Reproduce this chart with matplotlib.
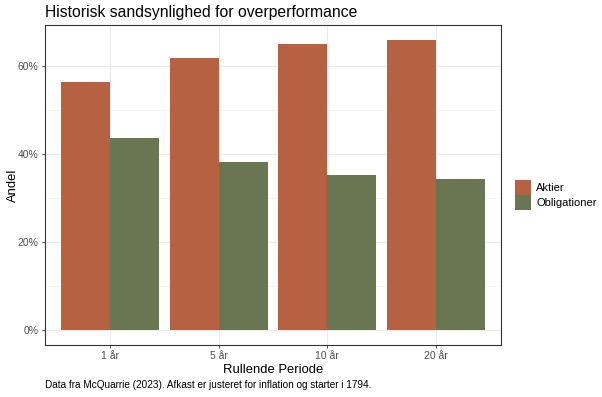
import matplotlib.pyplot as plt
import numpy as np
from matplotlib.ticker import FuncFormatter

plt.rcParams['font.family'] = ['Liberation Sans', 'DejaVu Sans']

periods = ['1 år', '5 år', '10 år', '20 år']
aktier = [56.4, 61.8, 65.1, 66.0]
obligationer = [43.6, 38.2, 35.2, 34.3]
series = ['Aktier', 'Obligationer']
colors = ['#B66142', '#6A7551']

fig = plt.figure(figsize=(6.02, 3.97), dpi=100)
ax = fig.add_axes([45 / 602, 1 - 345 / 397, 456 / 602, 320 / 397])

x = np.arange(len(periods)) + 1
w = 0.45
ax.bar(x - w / 2, aktier, width=w, color=colors[0], label=series[0], zorder=3)
ax.bar(x + w / 2, obligationer, width=w, color=colors[1], label=series[1], zorder=3)

ax.set_xlim(0.4, 4.6)
ymax = max(aktier) * 1.05
ax.set_ylim(-max(aktier) * 0.05, ymax)
ax.set_xticks(x)
ax.set_xticklabels(periods)
ax.set_yticks([0, 20, 40, 60])
ax.set_yticks([10, 30, 50], minor=True)
ax.yaxis.set_major_formatter(FuncFormatter(lambda v, p: f'{v:.0f}%'))
ax.grid(True, which='major', color='#EBEBEB', lw=0.8, zorder=0)
ax.grid(True, which='minor', axis='y', color='#F2F2F2', lw=0.5, zorder=0)
ax.tick_params(axis='both', which='major', labelsize=7.5, colors='#333333',
               labelcolor='#4D4D4D', length=2.5, width=0.6, pad=2)
ax.tick_params(axis='y', which='minor', length=0)
for s in ax.spines.values():
    s.set_color('#333333')
    s.set_linewidth(0.8)

ax.set_xlabel('Rullende Periode', fontsize=9.4)
ax.set_ylabel('Andel', fontsize=9.4)
ax.xaxis.set_label_coords(0.5, -(370 - 345) / 320, transform=ax.transAxes)
ax.xaxis.label.set_va('center')
ax.yaxis.set_label_coords(-(45 - 13) / 456, 0.5, transform=ax.transAxes)
ax.yaxis.label.set_va('center')
fig.text(45 / 602, 1 - 12 / 397, 'Historisk sandsynlighed for overperformance',
         fontsize=11.3, va='center', ha='left')
fig.text(45 / 602, 1 - 385 / 397,
         'Data fra McQuarrie (2023). Afkast er justeret for inflation og starter i 1794.',
         fontsize=7.2, va='center', ha='left')

ax.legend(loc='center left', bbox_to_anchor=((515 - 45) / 456, (345 - 195) / 320),
          frameon=False, fontsize=8, handlelength=1.4, handleheight=1.75,
          labelspacing=0.0, handletextpad=0.5, borderpad=0, borderaxespad=0)

fig.savefig('out.png', dpi=100)
